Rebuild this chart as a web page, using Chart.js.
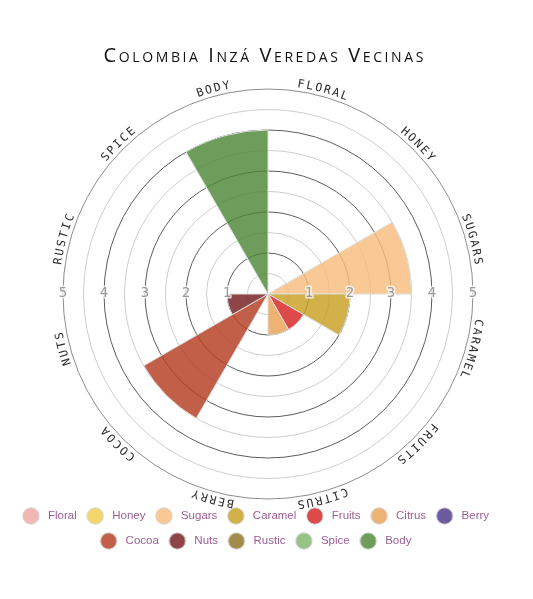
<!DOCTYPE html>
<html>
<head>
<meta charset="utf-8">
<script src="https://cdn.jsdelivr.net/npm/chart.js@4.4.0/dist/chart.umd.min.js"></script>
<style>
  html, body { margin: 0; padding: 0; background: #ffffff; }
  #wrap { width: 533px; height: 599px; }
</style>
</head>
<body>
<div id="wrap"><canvas id="c" width="533" height="599"></canvas></div>
<script>
// ---- data ----
const titleText = 'Colombia Inzá Veredas Vecinas';
const categories = ['Floral', 'Honey', 'Sugars', 'Caramel', 'Fruits', 'Citrus', 'Berry', 'Cocoa', 'Nuts', 'Rustic', 'Spice', 'Body'];
const scores = [0, 0, 3.5, 2, 1, 1, 0, 3.5, 1, 0, 0, 4];
const tickLabels = ['1', '2', '3', '4', '5'];
const swatches = ['#f2b7b5', '#f2d66c', '#f9c995', '#d2b04a', '#dc4a4a', '#eeb373', '#6b5a9e', '#c15f49', '#8e4548', '#a38b4a', '#98c387', '#6d9c5b'];

// ---- styling helpers ----
const FILL_ALPHA = 0.82;
function toRgba(hex, a) {
  const n = parseInt(hex.slice(1), 16);
  const ch = [(n >> 16) & 255, (n >> 8) & 255, n & 255].map(c => Math.max(0, Math.min(255, Math.round((c - 255 * (1 - a)) / a))));
  return 'rgba(' + ch.join(',') + ',' + a + ')';
}
function makeDot(fill, stroke) {
  const cv = document.createElement('canvas');
  cv.width = 26; cv.height = 20;
  const g = cv.getContext('2d');
  g.beginPath();
  g.arc(9.875, 10, 8.2, 0, Math.PI * 2);
  g.fillStyle = fill; g.fill();
  g.lineWidth = 1; g.strokeStyle = stroke; g.stroke();
  return cv;
}
const legendTextColor = '#9c5d93';

// ---- plugins ----
const titlePlugin = {
  id: 'smallCapsTitle',
  afterDraw(chart) {
    const ctx = chart.ctx;
    ctx.save();
    ctx.font = 'normal small-caps 400 20px "Open Sans"';
    try { ctx.letterSpacing = '2.6px'; } catch (e) {}
    ctx.fillStyle = '#111';
    ctx.textAlign = 'center';
    ctx.textBaseline = 'alphabetic';
    ctx.fillText(titleText, 264.8, 61.5);
    ctx.restore();
  }
};

const tickPlugin = {
  id: 'sideTicks',
  afterDatasetsDraw(chart) {
    const s = chart.scales.r, ctx = chart.ctx;
    ctx.save();
    ctx.font = '14px "DejaVu Sans Mono"';
    ctx.textAlign = 'center';
    ctx.textBaseline = 'middle';
    ctx.lineJoin = 'round';
    tickLabels.forEach(t => {
      const d = s.getDistanceFromCenterForValue(Number(t));
      [-1, 1].forEach(side => {
        const x = s.xCenter + side * d, y = s.yCenter - 1;
        ctx.lineWidth = 3;
        ctx.strokeStyle = 'rgba(255,255,255,0.75)';
        ctx.strokeText(t, x, y);
        ctx.fillStyle = '#9a9a9a';
        ctx.fillText(t, x, y);
      });
    });
    ctx.restore();
  }
};

const curvedLabels = {
  id: 'curvedLabels',
  afterDraw(chart) {
    const s = chart.scales.r, ctx = chart.ctx;
    const R = s.drawingArea + 4;
    const n = categories.length;
    const step = 9 / (R + 4);
    ctx.save();
    ctx.font = '11.5px "DejaVu Sans Mono"';
    ctx.fillStyle = '#2b2b2b';
    ctx.textAlign = 'center';
    ctx.textBaseline = 'alphabetic';
    categories.forEach((cat, i) => {
      const txt = cat.toUpperCase();
      const mid = s.getIndexAngle(i) + Math.PI / n;
      for (let j = 0; j < txt.length; j++) {
        const a = mid + (j - (txt.length - 1) / 2) * step;
        ctx.save();
        ctx.translate(s.xCenter + R * Math.sin(a), s.yCenter - R * Math.cos(a));
        ctx.rotate(a);
        ctx.fillText(txt[j], 0, 0);
        ctx.restore();
      }
    });
    ctx.restore();
  }
};

const legendShift = {
  id: 'legendShift',
  afterLayout(chart) {
    const lg = chart.legend;
    if (!lg) return;
    lg.left -= 10.5; lg.right -= 10.5;
    lg.top -= 2.25; lg.bottom -= 2.25;
  }
};

// ---- chart ----
new Chart(document.getElementById('c'), {
  type: 'polarArea',
  data: {
    labels: categories,
    datasets: [{
      data: scores,
      backgroundColor: swatches.map(c => toRgba(c, FILL_ALPHA)),
      borderColor: '#dedede',
      borderWidth: 1
    }]
  },
  options: {
    responsive: false,
    animation: false,
    layout: { padding: { top: 89, left: 3, right: 0, bottom: 40 } },
    scales: {
      r: {
        min: 0,
        max: 5,
        beginAtZero: true,
        ticks: { stepSize: 0.5, display: false },
        grid: {
          lineWidth: 1,
          color: (ctx) => {
            const v = ctx.tick ? ctx.tick.value : 0;
            if (Math.abs(v - 5) < 1e-6) return '#8c8c8c';
            return Math.abs(v - Math.round(v)) < 1e-6 ? '#5c5c5c' : '#cdcdcd';
          }
        },
        angleLines: { display: false },
        pointLabels: { display: false }
      }
    },
    plugins: {
      title: { display: false },
      tooltip: { enabled: false },
      legend: {
        position: 'bottom',
        labels: {
          usePointStyle: true,
          pointStyleWidth: 16.25,
          padding: 13.5,
          color: legendTextColor,
          font: { size: 11.5, family: '"Liberation Sans", Arial, sans-serif' },
          generateLabels(chart) {
            const meta = chart.getDatasetMeta(0);
            return chart.data.labels.map((label, i) => {
              const st = meta.controller.getStyle(i);
              return {
                text: label,
                fillStyle: st.backgroundColor,
                strokeStyle: st.borderColor,
                lineWidth: st.borderWidth,
                pointStyle: makeDot(st.backgroundColor, '#d4d4d4'),
                fontColor: legendTextColor,
                hidden: false,
                index: i
              };
            });
          }
        }
      }
    }
  },
  plugins: [titlePlugin, tickPlugin, curvedLabels, legendShift]
});
</script>
</body>
</html>
